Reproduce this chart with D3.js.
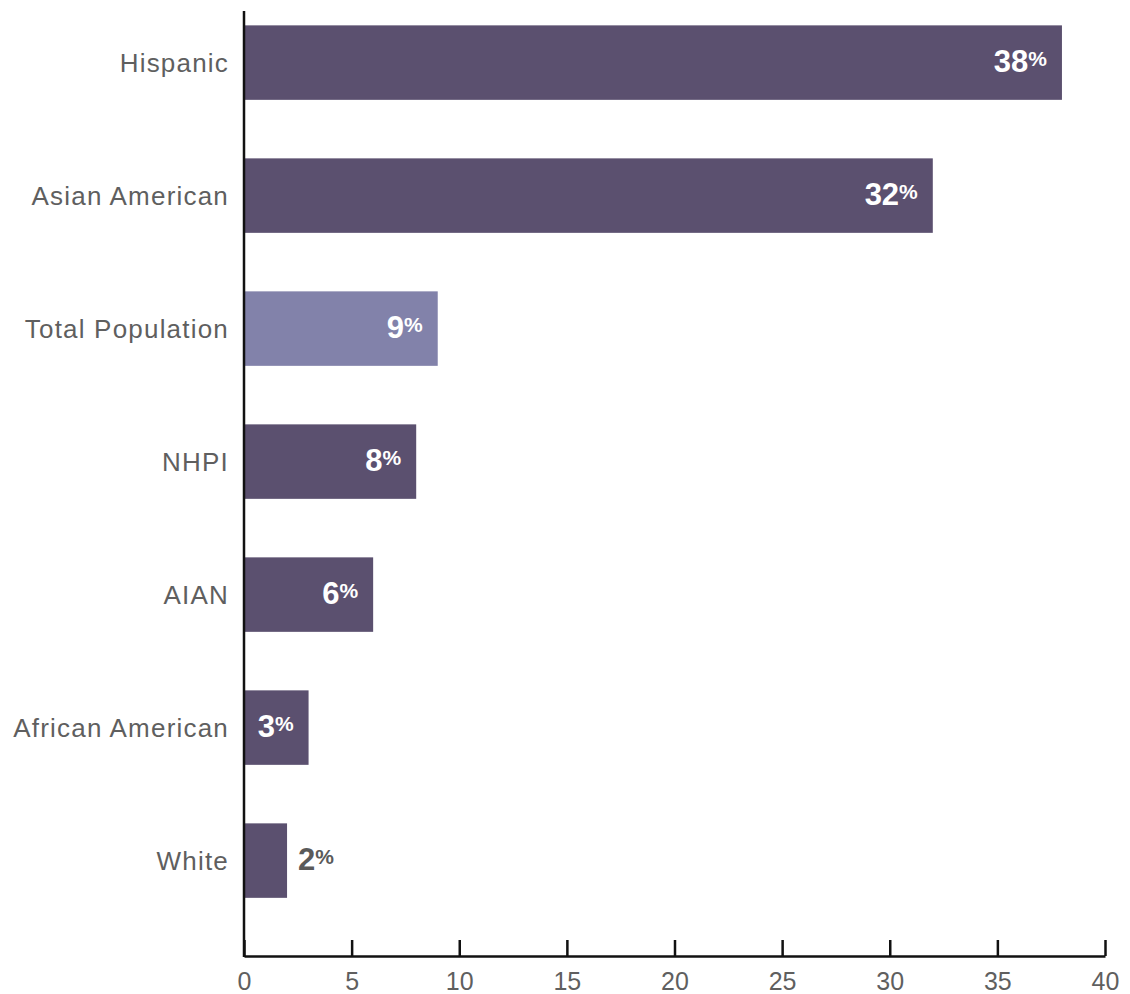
<!DOCTYPE html>
<html>
<head>
<meta charset="utf-8">
<script src="https://cdn.jsdelivr.net/npm/d3@7"></script>
<style>
  body { margin: 0; background: #fff; }
  svg text { font-family: "Liberation Sans", Arial, sans-serif; }
</style>
</head>
<body>
<div id="chart"></div>
<script>
// categories and values
var categories = ["Hispanic", "Asian American", "Total Population", "NHPI", "AIAN", "African American", "White"];
var values = [38, 32, 9, 8, 6, 3, 2];
var highlight = ["Total Population"];
var xTicks = [0, 5, 10, 15, 20, 25, 30, 35, 40];

var width = 1130, height = 994;
var x0 = 244, x1 = 1105, axisY = 956, axisTop = 11;

var data = categories.map(function(c, i){ return {name: c, value: values[i]}; });

var svg = d3.select("#chart").append("svg")
    .attr("width", width).attr("height", height);

var x = d3.scaleLinear().domain([0, 40]).range([x0, x1]);
var y = d3.scaleBand().domain(categories)
    .range([-3.9, 927.1]).paddingInner(0.44).paddingOuter(0.22);

// bars
svg.selectAll("rect.bar").data(data).enter().append("rect")
    .attr("class", "bar")
    .attr("x", x(0))
    .attr("y", function(d){ return y(d.name); })
    .attr("width", function(d){ return x(d.value) - x(0); })
    .attr("height", y.bandwidth())
    .attr("fill", function(d){ return highlight.indexOf(d.name) >= 0 ? "#8282aa" : "#5b506f"; });

// category labels
svg.selectAll("text.cat").data(data).enter().append("text")
    .attr("class", "cat")
    .attr("x", 229)
    .attr("y", function(d){ return y(d.name) + y.bandwidth()/2; })
    .attr("dy", "0.35em")
    .attr("text-anchor", "end")
    .attr("font-size", 26)
    .attr("letter-spacing", 1.2)
    .attr("fill", "#5f5f5f")
    .text(function(d){ return d.name; });

// value labels, inside the bar if it fits
var labels = svg.selectAll("text.val").data(data).enter().append("text")
    .attr("class", "val")
    .attr("font-weight", "bold")
    .attr("y", function(d){ return y(d.name) + y.bandwidth()/2 + 3; })
    .attr("dy", "0.37em");

labels.each(function(d){
    var t = d3.select(this);
    var inside = (x(d.value) - x(0)) > 55;
    t.attr("x", inside ? x(d.value) - 15 : x(d.value) + 11)
     .attr("text-anchor", inside ? "end" : "start")
     .attr("fill", inside ? "#ffffff" : "#5a5a5a");
    t.append("tspan").attr("font-size", 31).text(d.value);
    t.append("tspan").attr("font-size", 21).attr("dy", "-0.25em").text("%");
});

// x axis, ticks pointing up
var xAxis = d3.axisBottom(x).tickValues(xTicks).tickSize(-16).tickPadding(16).tickSizeOuter(0);
var gx = svg.append("g")
    .attr("transform", "translate(0," + axisY + ")")
    .call(xAxis);
gx.select(".domain").attr("stroke", "#111").attr("stroke-width", 2.5);
gx.selectAll(".tick line").attr("stroke", "#111").attr("stroke-width", 2.5);
gx.selectAll(".tick text")
    .attr("font-size", 25)
    .attr("fill", "#5f5f5f")
    .style("font-family", "'Liberation Sans', Arial, sans-serif");

// y axis line
svg.append("line")
    .attr("x1", x0).attr("x2", x0)
    .attr("y1", axisTop).attr("y2", axisY + 1)
    .attr("stroke", "#111").attr("stroke-width", 2.5);
</script>
</body>
</html>
